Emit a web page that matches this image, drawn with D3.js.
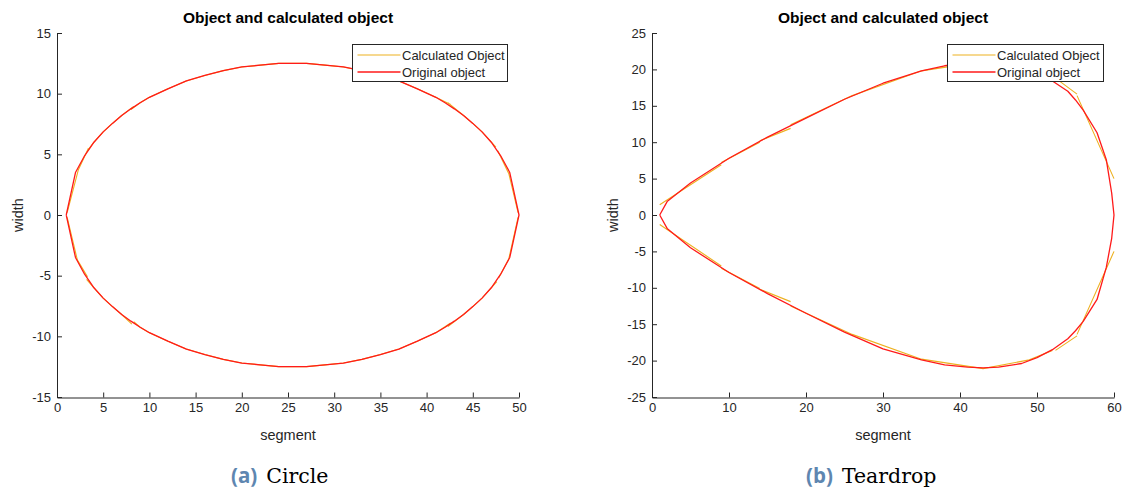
<!DOCTYPE html>
<html>
<head>
<meta charset="utf-8">
<script src="https://cdn.jsdelivr.net/npm/d3@7"></script>
<style>
  html, body { margin: 0; padding: 0; background: #ffffff; }
  svg { display: block; }
</style>
</head>
<body>
<svg id="fig" width="1125" height="488"></svg>
<script>
// ---- Circle: original outline (closed polygon) ----
const circleOrigX = [1, 2, 3, 4, 5, 6, 7, 8, 9, 10, 12, 14, 16, 18, 20, 22, 24, 25.5, 27, 29, 31, 33, 35, 37, 39, 41, 42, 43, 44, 45, 46, 47, 48, 49, 50,
                     49, 48, 47, 46, 45, 44, 43, 42, 41, 39, 37, 35, 33, 31, 29, 27, 25.5, 24, 22, 20, 18, 16, 14, 12, 10, 9, 8, 7, 6, 5, 4, 3, 2, 1];
const circleOrigY = [0, 3.5, 4.9, 6.0, 6.85, 7.55, 8.2, 8.75, 9.25, 9.7, 10.4, 11.05, 11.5, 11.9, 12.2, 12.35, 12.5, 12.5, 12.5, 12.35, 12.2, 11.9, 11.5, 11.05, 10.4, 9.7, 9.25, 8.75, 8.2, 7.55, 6.85, 6.0, 4.9, 3.5, 0,
                     -3.5, -4.9, -6.0, -6.85, -7.55, -8.2, -8.75, -9.25, -9.7, -10.4, -11.05, -11.5, -11.9, -12.2, -12.35, -12.5, -12.5, -12.5, -12.35, -12.2, -11.9, -11.5, -11.05, -10.4, -9.7, -9.25, -8.75, -8.2, -7.55, -6.85, -6.0, -4.9, -3.5, 0];

// ---- Circle: calculated outline (piecewise fits, null = break between pieces) ----
const circleCalcX = [1.1, 2.3, 3.4, null,
                     3.2, 4, 5, 6, 7, 8.3, null,
                     8.0, 9, 10, 12, 14, 16, 18, 20, 22, 24, 25.5, 27, 29, 31, 33, 35, 37, 39, 41, 42.6, null,
                     42.3, 44, 45, 46, 47.5, null,
                     47.7, 48.9, 49.9, null,
                     49.9, 48.9, 47.8, null,
                     47.6, 46, 45, 44, 42.3, null,
                     42.6, 41, 39, 37, 35, 33, 31, 29, 27, 25.5, 24, 22, 20, 18, 16, 14, 12, 10, 9, 8.3, null,
                     8.1, 7, 6, 5, 4, 3.2, null,
                     3.3, 2.2, 1.1];
const circleCalcY = [0.2, 3.7, 5.5, null,
                     5.2, 6.0, 6.85, 7.55, 8.2, 8.95, null,
                     8.7, 9.25, 9.7, 10.4, 11.05, 11.5, 11.9, 12.2, 12.35, 12.5, 12.5, 12.5, 12.35, 12.2, 11.9, 11.5, 11.05, 10.4, 9.7, 9.1, null,
                     9.25, 8.2, 7.55, 6.85, 5.6, null,
                     5.3, 3.4, 0.2, null,
                     -0.2, -3.6, -5.2, null,
                     -5.5, -6.85, -7.55, -8.2, -9.2, null,
                     -8.9, -9.7, -10.4, -11.05, -11.5, -11.9, -12.2, -12.35, -12.5, -12.5, -12.5, -12.35, -12.2, -11.9, -11.5, -11.05, -10.4, -9.7, -9.25, -8.8, null,
                     -9.0, -8.2, -7.55, -6.85, -6.0, -5.3, null,
                     -5.1, -3.7, -0.2];

// ---- Teardrop: original outline (closed polygon) ----
const dropOrigX = [1, 2, 5, 10, 15, 20, 25, 30, 35, 38, 41, 43, 45, 48, 50, 52, 54, 55, 56, 57.8, 59, 59.7, 60,
                   59.7, 59, 57.8, 56, 55, 54, 52, 50, 48, 45, 43, 41, 38, 35, 30, 25, 20, 15, 10, 5, 2, 1];
const dropOrigY = [0, 1.9, 4.4, 7.8, 10.7, 13.3, 15.9, 18.1, 19.8, 20.5, 20.9, 21.0, 20.9, 20.3, 19.5, 18.4, 17.0, 15.8, 14.4, 11.3, 7.6, 3.0, 0,
                   -3.2, -7.2, -11.6, -14.6, -15.9, -17.0, -18.5, -19.6, -20.4, -20.9, -21.0, -20.9, -20.6, -19.9, -18.4, -16.1, -13.5, -10.8, -7.9, -4.5, -1.9, 0];

// ---- Teardrop: calculated outline (piecewise fits, null = break) ----
const dropCalcX = [1, 9, null, 9, 14, null, 14, 18, null, 18, 26, 35, 43, 49, 52, null, 52.4, 55.2, null, 55.2, 60, null,
                   60, 55.2, null, 55.2, 52.4, null, 52, 49, 43, 35, 26, 18, null, 18, 14, null, 14, 9, null, 9, 1];
const dropCalcY = [1.4, 6.9, null, 7.2, 10.0, null, 10.2, 11.9, null, 12.4, 16.4, 19.8, 21.1, 19.9, 18.6, null, 18.8, 16.6, null, 16.4, 5.0, null,
                   -5.0, -16.4, null, -16.6, -18.6, null, -18.6, -19.9, -21.1, -19.8, -16.4, -12.5, null, -11.9, -10.2, null, -10.1, -7.3, null, -7.0, -1.3];

// ---- Axis ticks and text ----
const circleXTicks = [0, 5, 10, 15, 20, 25, 30, 35, 40, 45, 50];
const circleYTicks = [-15, -10, -5, 0, 5, 10, 15];
const dropXTicks = [0, 10, 20, 30, 40, 50, 60];
const dropYTicks = [-25, -20, -15, -10, -5, 0, 5, 10, 15, 20, 25];
const titleText = "Object and calculated object";
const xLabelText = "segment";
const yLabelText = "width";
const legendLabels = ["Calculated Object", "Original object"];
const captionTags = ["(a)", "(b)"];
const captionNames = ["Circle", "Teardrop"];

const COLOR_CALC = "#EDB120";
const COLOR_ORIG = "#FF1A1A";
const INK = "#262626";
const FONT = "'Liberation Sans', Arial, Helvetica, sans-serif";

const svg = d3.select("#fig");

const panels = [
  { left: 57, right: 519, xDomain: [0, 50], yDomain: [-15, 15], xTicks: circleXTicks, yTicks: circleYTicks,
    orig: [circleOrigX, circleOrigY], calc: [circleCalcX, circleCalcY],
    legend: { x: 352.5, w: 155 }, ylabelX: 18, tag: captionTags[0], name: captionNames[0], capX: 231 },
  { left: 652, right: 1114, xDomain: [0, 60], yDomain: [-25, 25], xTicks: dropXTicks, yTicks: dropYTicks,
    orig: [dropOrigX, dropOrigY], calc: [dropCalcX, dropCalcY],
    legend: { x: 947.5, w: 156 }, ylabelX: 613, tag: captionTags[1], name: captionNames[1], capX: 806 }
];

const TOP = 33, BOTTOM = 397;

panels.forEach(p => {
  const x = d3.scaleLinear().domain(p.xDomain).range([p.left, p.right]);
  const y = d3.scaleLinear().domain(p.yDomain).range([BOTTOM, TOP]);
  const g = svg.append("g");

  const toPts = (xs, ys) => xs.map((v, i) => [v, ys[i]]);
  const line = d3.line()
    .defined(d => d[0] !== null && d[1] !== null)
    .x(d => x(d[0])).y(d => y(d[1]));

  // calculated pieces under the original outline
  g.append("path")
    .attr("d", line(toPts(p.calc[0], p.calc[1])))
    .attr("fill", "none").attr("stroke", COLOR_CALC).attr("stroke-width", 1.1)
    .attr("stroke-linejoin", "round");
  g.append("path")
    .attr("d", line(toPts(p.orig[0], p.orig[1])))
    .attr("fill", "none").attr("stroke", COLOR_ORIG).attr("stroke-width", 1.3)
    .attr("stroke-linejoin", "round");

  // axes (ticks point inward)
  const xAxis = d3.axisBottom(x).tickValues(p.xTicks).tickFormat(d3.format("d"))
    .tickSizeInner(-5).tickSizeOuter(0).tickPadding(5);
  const yAxis = d3.axisLeft(y).tickValues(p.yTicks).tickFormat(d3.format("d"))
    .tickSizeInner(-5).tickSizeOuter(0).tickPadding(6);

  const gx = g.append("g").attr("transform", `translate(0,${BOTTOM + 0.5})`).call(xAxis);
  const gy = g.append("g").attr("transform", `translate(${p.left},0)`).call(yAxis);
  [gx, gy].forEach(a => {
    a.select(".domain").attr("stroke", INK).attr("stroke-width", 1);
    a.selectAll(".tick line").attr("stroke", INK);
    a.selectAll(".tick text").attr("font-family", FONT).attr("font-size", 13).attr("fill", INK);
  });
  gy.selectAll(".tick text").text(d => d < 0 ? "-" + Math.abs(d) : d);

  const cx = (p.left + p.right) / 2;
  // title
  g.append("text").attr("x", cx).attr("y", 23).attr("text-anchor", "middle")
    .attr("font-family", FONT).attr("font-size", 15.5).attr("font-weight", "bold").attr("fill", "#000")
    .text(titleText);
  // axis labels
  g.append("text").attr("x", cx).attr("y", 440).attr("text-anchor", "middle")
    .attr("font-family", FONT).attr("font-size", 14.5).attr("fill", INK).text(xLabelText);
  g.append("text").attr("transform", `translate(${p.ylabelX + 5},215) rotate(-90)`).attr("text-anchor", "middle")
    .attr("font-family", FONT).attr("font-size", 14.5).attr("fill", INK).text(yLabelText);

  // legend
  const L = p.legend;
  const lg = g.append("g");
  lg.append("rect").attr("x", L.x).attr("y", 44.5).attr("width", L.w).attr("height", 37)
    .attr("fill", "#fff").attr("stroke", INK).attr("stroke-width", 1);
  [[COLOR_CALC, 55], [COLOR_ORIG, 72]].forEach(([c, yy], i) => {
    lg.append("line").attr("x1", L.x + 5).attr("x2", L.x + 48).attr("y1", yy).attr("y2", yy)
      .attr("stroke", c).attr("stroke-width", i === 0 ? 1.1 : 1.3);
    lg.append("text").attr("x", L.x + 49.5).attr("y", yy + 4.5)
      .attr("font-family", FONT).attr("font-size", 13).attr("fill", INK).text(legendLabels[i]);
  });

  // caption under the panel
  const cap = g.append("text").attr("x", p.capX).attr("y", 483);
  cap.append("tspan").attr("font-family", "'Open Sans', 'Noto Sans', sans-serif").attr("font-weight", "bold")
    .attr("font-size", 20.5).attr("fill", "#5E86B0").text(p.tag);
  cap.append("tspan").attr("dx", 9).attr("font-family", "'DejaVu Serif', serif")
    .attr("font-size", 20.5).attr("fill", "#000").text(p.name);
});
</script>
</body>
</html>
